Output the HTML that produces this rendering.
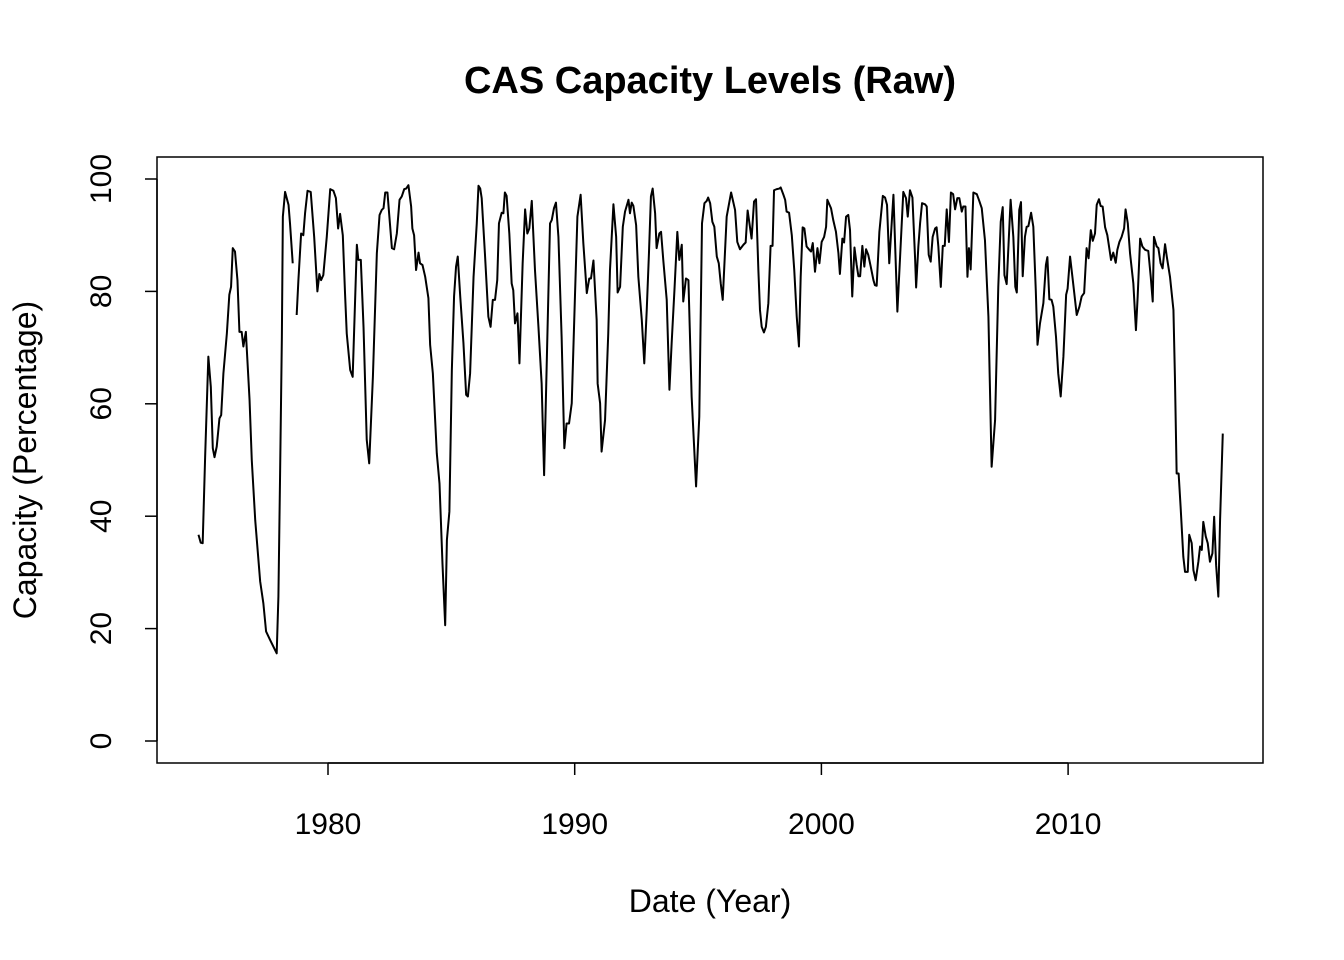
<!DOCTYPE html>
<html><head><meta charset="utf-8"><style>
html,body{margin:0;padding:0;background:#fff;}
svg{display:block;font-family:"Liberation Sans",Arial,sans-serif;}
</style></head><body>
<svg id="chart" width="1344" height="960" viewBox="0 0 1344 960" xmlns="http://www.w3.org/2000/svg">
<rect x="0" y="0" width="1344" height="960" fill="#fff"/>
<text x="710" y="93" font-size="38" font-weight="bold" text-anchor="middle">CAS Capacity Levels (Raw)</text>
<rect x="157" y="157" width="1106" height="606" fill="none" stroke="#000" stroke-width="1.5"/>
<g id="xaxis"></g>
<g id="yaxis"></g>
<text x="710" y="912" font-size="32" text-anchor="middle">Date (Year)</text>
<text x="0" y="0" font-size="32" text-anchor="middle" transform="translate(36,460) rotate(-90)">Capacity (Percentage)</text>
<g id="series"></g>
</svg>
<script>
const xTicks = [1980, 1990, 2000, 2010];
const yTicks = [0, 20, 40, 60, 80, 100];
const years = [1974.75,1974.84,1974.92,1975.02,1975.15,1975.25,1975.33,1975.40,1975.49,1975.60,1975.67,1975.76,1975.90,1976.00,1976.07,1976.14,1976.23,1976.33,1976.41,1976.50,1976.57,1976.67,1976.82,1976.91,1977.05,1977.25,1977.38,1977.49,1977.65,1977.92,1977.99,1978.06,1978.13,1978.17,1978.26,1978.40,1978.46,1978.57,1978.65,
1978.73,1978.80,1978.91,1979.00,1979.07,1979.17,1979.30,1979.44,1979.57,1979.65,1979.72,1979.81,1979.95,1980.09,1980.22,1980.32,1980.41,1980.49,1980.60,1980.69,1980.76,1980.90,1981.00,1981.17,1981.23,1981.33,1981.44,1981.57,1981.67,1981.82,1981.98,1982.09,1982.18,1982.25,1982.32,1982.41,1982.59,1982.68,1982.79,1982.90,1982.99,1983.09,1983.17,1983.26,1983.37,1983.42,1983.49,1983.57,1983.67,1983.73,1983.83,1983.94,1984.07,1984.14,1984.25,1984.41,1984.52,1984.64,1984.75,1984.82,1984.92,1985.02,1985.11,1985.19,1985.26,1985.36,1985.49,1985.60,1985.67,1985.76,1985.90,1986.03,1986.10,1986.17,
1986.23,1986.36,1986.50,1986.59,1986.68,1986.77,1986.86,1986.93,1987.04,1987.11,1987.17,1987.24,1987.35,1987.445,1987.51,1987.58,1987.68,1987.76,1987.89,1987.99,1988.08,1988.16,1988.26,1988.39,1988.53,1988.66,1988.76,1988.86,1989.00,1989.07,1989.16,1989.24,1989.34,1989.47,1989.58,1989.67,1989.77,1989.88,1990.01,1990.11,1990.24,1990.35,1990.49,1990.59,1990.66,1990.76,1990.89,1990.93,1991.03,1991.09,1991.23,1991.36,1991.43,1991.57,1991.68,1991.74,1991.84,1991.95,1992.04,1992.18,1992.24,1992.31,1992.38,1992.49,1992.58,1992.72,1992.82,1992.92,1993.01,1993.09,1993.16,1993.26,1993.32,1993.43,1993.50,1993.59,1993.73,1993.84,1993.93,1994.05,1994.16,1994.24,1994.34,1994.40,1994.51,1994.61,1994.74,1994.92,1995.05,1995.16,1995.26,1995.35,1995.41,1995.49,1995.58,1995.66,1995.76,1995.84,1995.92,1996.00,1996.16,1996.34,1996.50,1996.59,1996.70,1996.84,1996.93,1997.01,1997.17,1997.27,1997.35,1997.445,1997.51,
1997.58,1997.67,1997.75,1997.85,1997.94,1998.02,1998.08,1998.19,1998.30,1998.35,1998.46,1998.53,1998.59,1998.69,1998.80,1998.90,1999.00,1999.09,1999.16,1999.24,1999.31,1999.40,1999.51,1999.58,1999.65,1999.74,1999.84,1999.92,2000.01,2000.11,2000.19,2000.24,2000.39,2000.48,2000.59,2000.69,2000.75,2000.85,2000.92,2001.00,2001.09,2001.16,2001.25,2001.34,2001.43,2001.50,2001.57,2001.66,2001.74,2001.81,2001.90,2002.00,2002.11,2002.17,2002.24,2002.35,2002.49,2002.58,2002.66,2002.75,2002.92,2003.08,2003.19,2003.32,2003.43,2003.50,2003.59,2003.69,2003.80,2003.84,2003.93,2004.00,2004.08,2004.20,2004.27,2004.35,2004.43,2004.51,2004.61,2004.67,2004.74,2004.84,2004.92,2005.00,2005.08,2005.17,2005.25,2005.34,2005.42,2005.51,2005.59,2005.69,2005.75,2005.84,2005.92,2005.98,2006.05,2006.16,2006.30,2006.40,2006.50,2006.63,2006.77,2006.90,2007.04,2007.17,2007.27,2007.35,2007.42,2007.51,2007.67,2007.78,2007.86,2007.92,2008.02,2008.09,2008.16,2008.25,2008.32,2008.39,2008.50,2008.59,2008.69,2008.76,
2008.86,2008.997,2009.10,2009.16,2009.24,2009.33,2009.40,2009.51,2009.60,2009.70,2009.81,2009.92,2009.98,2010.08,2010.19,2010.25,2010.35,2010.46,2010.55,2010.65,2010.75,2010.83,2010.92,2011.00,2011.09,2011.16,2011.25,2011.32,2011.40,2011.50,2011.59,2011.70,2011.74,2011.83,2011.93,2011.996,2012.08,2012.17,2012.27,2012.33,2012.42,2012.51,2012.645,2012.75,2012.82,2012.92,2013.01,2013.12,2013.25,2013.35,2013.43,2013.48,2013.59,2013.66,2013.75,2013.83,2013.93,2014.00,2014.13,2014.27,2014.33,2014.40,2014.48,2014.56,2014.67,2014.74,2014.85,2014.91,2015.01,2015.08,2015.17,2015.28,2015.35,2015.42,2015.48,2015.58,2015.66,2015.75,2015.85,2015.92,2016.00,2016.09,2016.16,2016.27];
const capacity = [36.7,35.3,35.2,50.6,68.4,63.0,52.1,50.5,52.4,57.4,58.0,65.4,72.5,79.4,80.8,87.7,87.1,82.0,72.8,72.8,70.2,72.8,60.7,50.0,39.3,28.4,24.5,19.5,18.0,15.6,25.7,48.2,71.9,93.3,97.7,95.4,92.1,85.0,null,
75.8,82.0,90.3,90.0,93.9,97.9,97.7,89.7,80.0,83.1,82.0,82.9,89.7,98.2,97.9,96.6,91.2,93.8,90.0,79.7,72.5,66.0,64.8,88.3,85.6,85.6,73.7,53.6,49.4,64.8,86.8,93.6,94.5,94.8,97.6,97.6,87.7,87.5,90.3,96.3,96.9,98.2,98.3,98.9,95.1,91.2,90.0,83.8,86.9,85.0,84.7,82.6,78.8,70.5,65.4,51.2,45.8,31.6,20.6,35.8,40.8,66.0,79.1,84.4,86.2,79.1,70.8,61.6,61.3,65.4,82.6,92.1,98.8,98.3,
96.6,86.8,75.5,73.7,78.5,78.5,82.0,92.1,94.0,93.9,97.6,97.0,90.3,81.4,80.2,74.3,76.1,67.2,85.0,94.6,90.3,91.2,96.1,83.8,73.7,63.6,47.3,66.0,92.1,92.7,94.8,95.8,89.7,71.9,52.1,56.5,56.5,60.1,79.1,93.3,97.2,88.6,79.7,82.3,82.3,85.5,74.9,63.6,60.1,51.5,57.1,72.5,83.8,95.5,89.7,79.8,80.8,91.5,94.2,96.3,93.9,95.8,95.2,91.8,82.6,74.9,67.2,76.7,86.8,96.9,98.3,93.9,87.7,90.3,90.6,85.6,78.5,62.5,70.8,80.8,90.6,85.6,88.3,78.2,82.3,82.0,61.3,45.3,57.7,92.1,95.7,96.1,96.7,95.7,92.4,91.5,86.2,85.0,81.4,78.5,93.3,97.6,94.5,88.8,87.5,88.3,88.7,94.4,89.4,96.0,96.4,83.8,76.7,
73.7,72.7,73.7,77.9,88.1,88.1,98.0,98.2,98.3,98.5,97.2,96.3,94.2,94.0,90.0,83.8,75.5,70.2,82.6,91.4,91.2,88.0,87.4,87.1,88.6,83.5,87.7,85.0,88.8,89.7,91.5,96.3,94.8,92.7,90.6,86.8,83.1,89.4,88.7,93.3,93.6,90.9,79.1,87.8,84.7,82.7,82.7,88.1,84.4,87.5,86.5,84.4,82.0,81.1,81.0,90.6,97.0,96.7,95.4,85.0,97.2,76.4,86.2,97.7,96.6,93.3,98.0,96.7,85.6,80.7,88.0,92.1,95.7,95.5,95.1,86.5,85.3,89.7,91.2,91.4,88.0,80.8,88.1,88.1,94.6,88.8,97.6,97.3,94.6,96.6,96.6,94.2,95.1,95.1,82.6,87.7,83.9,97.6,97.3,96.1,94.8,89.1,75.5,48.8,57.1,80.8,92.4,95.0,82.9,81.3,96.3,89.7,80.8,79.8,94.5,95.9,82.7,89.7,91.5,91.6,94.0,91.5,80.2,70.5,
74.3,77.9,84.7,86.1,78.6,78.5,77.3,71.9,65.4,61.3,68.4,79.4,80.5,86.2,82.0,79.7,75.8,77.3,79.1,79.7,87.7,85.9,90.9,89.0,90.3,95.4,96.4,95.2,95.1,91.4,90.0,86.8,85.6,86.9,85.1,87.4,88.8,89.7,91.2,94.6,92.1,86.8,81.4,73.1,79.1,89.4,88.0,87.4,87.2,82.6,78.2,89.7,88.0,87.7,85.0,84.1,88.4,86.2,82.6,76.7,64.8,47.6,47.6,41.7,32.8,30.1,30.1,36.7,35.2,30.4,28.6,31.9,34.6,34.0,39.0,36.4,35.2,31.9,33.4,39.9,31.3,25.7,39.3,54.7];

const NS = "http://www.w3.org/2000/svg";
const X0 = 328, PXY = 24.67, Y0 = 741, PXV = 5.62;
function xs(yr){ return X0 + (yr - 1980) * PXY; }
function ys(v){ return Y0 - v * PXV; }
function mk(tag, attrs, parent){ const e = document.createElementNS(NS, tag); for (const k in attrs) e.setAttribute(k, attrs[k]); parent.appendChild(e); return e; }

const xg = document.getElementById('xaxis');
const xl = mk('line', {x1: xs(xTicks[0]), x2: xs(xTicks[xTicks.length-1]), y1: 763, y2: 763, stroke: '#000', 'stroke-width': 1.5}, xg);


xTicks.forEach(t => {
  const tk = mk('line', {x1: xs(t), x2: xs(t), y1: 763, y2: 775, stroke: '#000', 'stroke-width': 1.5}, xg);
  
  
  const tx = mk('text', {x: xs(t), y: 834, 'font-size': 30, 'text-anchor': 'middle'}, xg);
  
  
  tx.textContent = t;
});

const yg = document.getElementById('yaxis');
const yl = mk('line', {x1: 157, x2: 157, y1: ys(yTicks[0]), y2: ys(yTicks[yTicks.length-1]), stroke: '#000', 'stroke-width': 1.5}, yg);


yTicks.forEach(t => {
  const tk = mk('line', {x1: 145, x2: 157, y1: ys(t), y2: ys(t), stroke: '#000', 'stroke-width': 1.5}, yg);
  
  
  const tx = mk('text', {x: 0, y: 0, 'font-size': 30, 'text-anchor': 'middle', transform: 'translate(111,' + ys(t) + ') rotate(-90)'}, yg);
  
  
  tx.textContent = t;
});

const sg = document.getElementById('series');
let d = '', pen = false;
for (let i = 0; i < years.length; i++) {
  if (capacity[i] === null) { pen = false; continue; }
  d += (pen ? 'L' : 'M') + xs(years[i]).toFixed(2) + ',' + ys(capacity[i]).toFixed(2);
  pen = true;
}
const p = mk('path', {d: d, fill: 'none', stroke: '#000', 'stroke-width': 2, 'stroke-linejoin': 'round'}, sg);


</script>
</body></html>
